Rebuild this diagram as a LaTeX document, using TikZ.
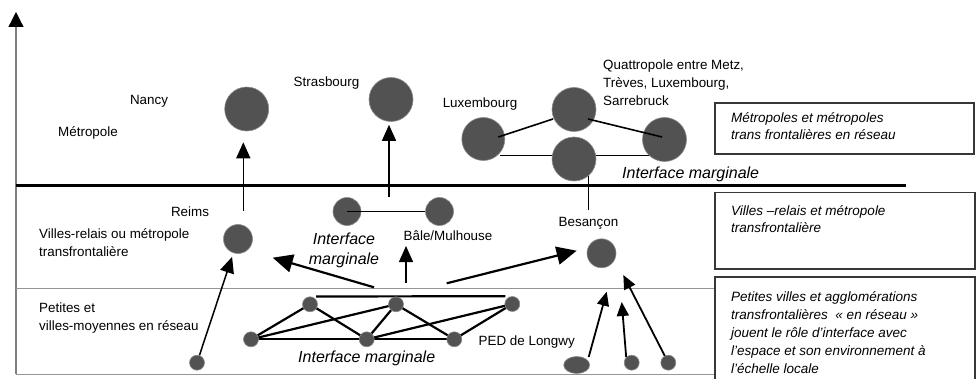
\documentclass[tikz,border=0pt]{standalone}
\usepackage{fontspec}
\setmainfont{Liberation Sans}
\usetikzlibrary{arrows.meta,shapes.geometric,backgrounds,calc}
\definecolor{cityfill}{RGB}{82,82,82}
\definecolor{cityedge}{RGB}{140,140,140}
\definecolor{bandline}{RGB}{150,150,150}
\definecolor{boxline}{RGB}{55,55,55}
\begin{document}
\begin{tikzpicture}[x=1pt,y=-1pt,
 city/.style={circle,fill=cityfill,draw=cityedge,line width=0.6pt,inner sep=0pt,minimum size=#1},
 lbl/.style={inner sep=0pt,font=\fontsize{13.4}{17.8}\selectfont},
 ilbl/.style={inner sep=0pt,font=\fontsize{13.5}{17.8}\selectfont\itshape},
 iflbl/.style={inner sep=0pt,font=\fontsize{16}{20}\selectfont\itshape},
 link/.style={line width=1.6pt},
 net/.style={line width=2.2pt},
 upar/.style={line width=1.5pt,-{Triangle[length=16pt,width=14pt]}},
 bigar/.style={line width=2.2pt,-{Triangle[length=20pt,width=18pt]}},
 smar/.style={line width=1.8pt,-{Triangle[length=14pt,width=12pt]}},
 band/.style={line width=1pt,draw=bandline},
 boxl/.style={line width=1.4pt,draw=boxline}]
\useasboundingbox (0,0) rectangle (976,379);

% axis and bands
\coordinate (axbot) at (16,374);
\coordinate (axtop) at (16,12);
\draw[line width=1.2pt,draw=gray,-{Triangle[length=15pt,width=15pt,color=black]}] (axbot) -- (axtop);
\coordinate (tl) at (16,185.5);
\coordinate (tr) at (906,185.5);
\draw[line width=2.7pt] (tl) -- (tr);
\coordinate (ml) at (16,288);
\coordinate (mr) at (715,288);
\draw[band] (ml) -- (mr);
\coordinate (bl) at (16,374);
\coordinate (br) at (715,374);
\draw[band] (bl) -- (br);

% right boxes
\draw[boxl] (715,103) rectangle (974,154);
\draw[boxl] (715,192.5) rectangle (975,269);
\draw[boxl] (715,379.5) -- (715,277) -- (975,277) -- (975,379.5);
\node[ilbl,anchor=base west,align=left,font=\fontsize{13.5}{17.5}\selectfont\itshape] (b1t) at (731,140) {Métropoles et métropoles\\trans frontalières en réseau};
\node[ilbl,anchor=base west,align=left,font=\fontsize{13.5}{16.5}\selectfont\itshape] (b2t) at (731,232.5) {Villes –relais et métropole\\transfrontalière};
\node[ilbl,anchor=base west,align=left,font=\fontsize{13.5}{18}\selectfont\itshape] (b3t) at (731,373.5) {Petites villes et agglomérations\\transfrontalières~~« en réseau »\\jouent le rôle d’interface avec\\l’espace et son environnement à\\l’échelle locale};

% cities
\node[city=44] (nancy) at (246.7,109) {};
\node[city=44] (stras) at (391,99.5) {};
\node[city=43] (lux) at (483.3,139) {};
\node[city=44] (qt) at (574,109.5) {};
\node[city=44] (qr) at (664.5,139.5) {};
\node[city=44] (qb) at (574,159) {};
\node[city=29] (reims) at (238,239) {};
\node[city=28] (bale1) at (347,211.5) {};
\node[city=28] (bale2) at (439.5,211.5) {};
\node[city=29] (besan) at (601.5,253.3) {};
\node[city=15] (na) at (251,339.3) {};
\node[city=15] (nb) at (310,304.3) {};
\node[city=15] (nc) at (366.7,339.3) {};
\node[city=15] (nd) at (396,304.3) {};
\node[city=15] (ne) at (454.3,339.3) {};
\node[city=15] (nf) at (512.3,304) {};
\node[city=15] (s1) at (197,362.7) {};
\node[ellipse,fill=cityfill,draw=cityedge,line width=0.6pt,inner sep=0pt,minimum width=26pt,minimum height=17pt] (ell) at (576.7,365) {};
\node[city=15] (s2) at (631.7,362.7) {};
\node[city=15] (s3) at (668.3,362.7) {};

% labels
\node[lbl,anchor=base] (metro) at (88,136.5) {Métropole};
\node[lbl,anchor=base] (nancylab) at (149,105) {Nancy};
\node[lbl,anchor=base] (straslab) at (326.5,86.5) {Strasbourg};
\node[lbl,anchor=base] (luxlab) at (480,107.5) {Luxembourg};
\node[lbl,anchor=base west,align=left] (quattro) at (603,105.1) {Quattropole entre Metz,\\Trèves, Luxembourg,\\Sarrebruck};
\node[iflbl,anchor=base west] (im1) at (622,178.5) {Interface marginale};
\node[lbl,anchor=base] (reimslab) at (190,216.5) {Reims};
\node[lbl,anchor=base west,align=left,font=\fontsize{13.4}{18}\selectfont] (vr) at (39,256) {Villes-relais ou métropole\\transfrontalière};
\node[lbl,anchor=base] (balelab) at (448,240.5) {Bâle/Mulhouse};
\node[iflbl,anchor=base,align=center] (im2) at (344,264.5) {Interface\\marginale};
\node[lbl,anchor=base] (beslab) at (588.5,226.5) {Besançon};
\node[lbl,anchor=base west,align=left,font=\fontsize{13.4}{18}\selectfont] (pv) at (39,330) {Petites et\\villes-moyennes en réseau};
\node[lbl,anchor=base] (ped) at (526.7,345.5) {PED de Longwy};
\node[iflbl,anchor=base] (im3) at (366.7,362.5) {Interface marginale};

% quattropole links
\draw[link] ($(lux.center)+(15,-2)$) -- ($(qt.center)+(-21,9.5)$);
\draw[link] ($(qt.center)+(14,9.5)$) -- ($(qr.center)+(-2.5,-2.5)$);
\begin{scope}[on background layer]
\draw[link] ($(lux.center)+(17,16.7)$) -- ($(qr.center)+(-2.5,16.2)$);
\draw[line width=1.2pt,shorten >=7pt] (qb.center -| beslab.north) -- (beslab.north);
\end{scope}
\draw[link] (bale1.center) -- (bale2.west);

% vertical arrows to metropoles
\coordinate (nfoot) at (243.3,211);
\draw[upar,shorten >=11pt] (nfoot) -- (nfoot |- nancy.south);
\coordinate (sfoot) at (389,197);
\draw[upar,shorten >=3pt] (sfoot) -- (sfoot |- stras.south);
\draw[upar,shorten >=4pt] (s1) -- (reims);

% middle arrows
\coordinate (la0) at (374,287.3);
\coordinate (la1) at (272.7,257.7);
\draw[bigar] (la0) -- (la1);
\coordinate (ma0) at (406,283);
\coordinate (ma1) at (406,246);
\draw[upar] (ma0) -- (ma1);
\coordinate (ra0) at (446.7,283.3);
\coordinate (ra1) at (576.7,250.7);
\draw[bigar] (ra0) -- (ra1);

% network
\begin{scope}[on background layer]
\draw[net] (na.center) -- (nb.center);
\draw[net] (na.center) -- (nd.center);
\draw[net] (na.center) -- (ne.center);
\draw[net] (nb.center) -- (nc.center);
\draw[net] (nc.center) -- (nd.center);
\draw[net] (nc.center) -- (nf.center);
\draw[net] (nd.center) -- (ne.center);
\draw[net] (ne.center) -- (nf.center);
\draw[net,shorten <=6pt,shorten >=7pt] (nb.north) -- (nf.north);
\end{scope}

% lower right arrows
\coordinate (t1) at (606.7,291.7);
\coordinate (t2) at (621.7,302);
\coordinate (t3) at (623.3,275);
\draw[smar] ($(ell.center)+(12,-8)$) -- (t1);
\draw[smar] (s2.north west) -- (t2);
\draw[smar] (s3) -- (t3);
\end{tikzpicture}
\end{document}
